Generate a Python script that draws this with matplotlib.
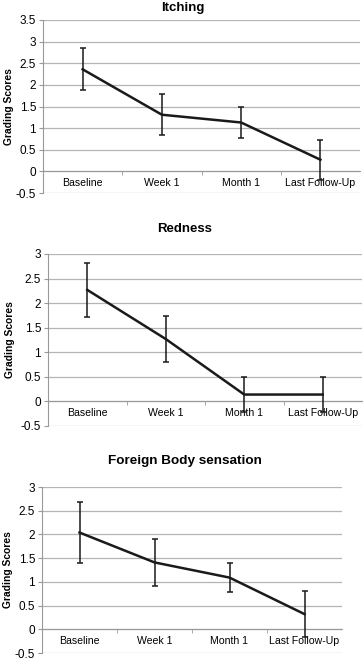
import numpy as np
import matplotlib
matplotlib.use("Agg")
import matplotlib.pyplot as plt

plt.rcParams['font.family'] = ['Liberation Sans', 'DejaVu Sans']

categories = ["Baseline", "Week 1", "Month 1", "Last Follow-Up"]

itching = [2.36, 1.31, 1.13, 0.27]
itching_err = [0.49, 0.48, 0.35, 0.46]

redness = [2.27, 1.27, 0.14, 0.14]
redness_err = [0.55, 0.46, 0.35, 0.35]

foreign = [2.04, 1.41, 1.09, 0.32]
foreign_err = [0.65, 0.50, 0.30, 0.48]

W, H = 363, 659
fig = plt.figure(figsize=(W / 100, H / 100), dpi=100)
fig.patch.set_facecolor('white')


def px_axes(left, right, top, bottom):
    return fig.add_axes([left / W, 1 - bottom / H, (right - left) / W, (bottom - top) / H])


def panel(ax, vals, errs, ymax, title, title_x, title_y, title_size, label_x):
    x = np.arange(len(categories))
    ax.errorbar(x, vals, yerr=errs, color='#1a1a1a', lw=1.8, elinewidth=1.1,
                capsize=2.2, capthick=1.1, zorder=3)
    ax.set_xlim(-0.5, len(categories) - 0.5)
    ax.set_ylim(-0.5, ymax)
    ticks = np.arange(-0.5, ymax + 0.01, 0.5)
    ax.set_yticks(ticks)
    ax.set_yticklabels(['%g' % v for v in ticks])
    ax.yaxis.grid(True, color='#b4b4b4', lw=0.9)
    ax.set_axisbelow(True)
    for s in ['top', 'right']:
        ax.spines[s].set_visible(False)
    ax.spines['left'].set_color('#999999')
    ax.spines['bottom'].set_position(('data', 0))
    ax.spines['bottom'].set_color('#999999')
    ax.set_xticks(x)
    ax.set_xticklabels(categories)
    ax.set_xticks(x[:-1] + 0.5, minor=True)
    ax.tick_params(axis='x', which='major', length=0, pad=5, labelsize=7.6)
    ax.tick_params(axis='x', which='minor', length=3, color='#999999', direction='out')
    ax.tick_params(axis='y', length=3, color='#999999', labelsize=8.5, pad=2)
    fig.text(title_x / W, 1 - title_y / H, title, ha='center', va='center',
             fontsize=title_size, fontweight='bold')
    pos = ax.get_position()
    fig.text(label_x / W, pos.y0 + pos.height / 2, "Grading Scores", rotation=90,
             ha='center', va='center', fontsize=7.4, fontweight='bold')


ax1 = px_axes(43, 360, 20, 193)
panel(ax1, itching, itching_err, 3.5, "Itching", 183, 8, 9.5, 9)

ax2 = px_axes(48, 362, 254, 426)
panel(ax2, redness, redness_err, 3.0, "Redness", 185, 229, 9.5, 10)

ax3 = px_axes(42, 342, 487, 653)
panel(ax3, foreign, foreign_err, 3.0, "Foreign Body sensation", 185, 461, 9.7, 8)

fig.savefig("out.png", dpi=100, facecolor='white')
